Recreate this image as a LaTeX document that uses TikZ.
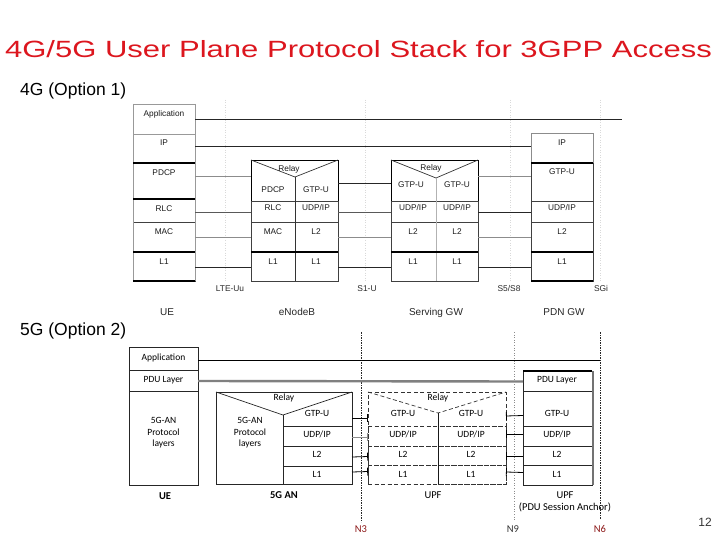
\documentclass[tikz,border=0pt]{standalone}
\usepackage{fontspec}
\setmainfont{Liberation Sans}
\newfontfamily\carl{Carlito}
\usetikzlibrary{arrows.meta,fit,calc}
\definecolor{titlered}{RGB}{220,22,30}
\definecolor{darkred}{RGB}{140,24,24}
\begin{document}
\begin{tikzpicture}[x=1pt,y=-1pt,
  box/.style={draw=black!75,line width=0.6pt,inner sep=0pt,outer sep=0pt},
  nobox/.style={inner sep=0pt,outer sep=0pt},
  dbox/.style={draw=black!80,line width=0.7pt,dash pattern=on 4pt off 2.5pt,inner sep=0pt,outer sep=0pt},
  t4/.style={font=\fontsize{8.3}{9.5}\selectfont,text=black!90,inner sep=0pt,anchor=mid},
  l4/.style={font=\fontsize{10}{12}\selectfont,text=black!85,inner sep=0pt,anchor=mid},
  i4/.style={font=\fontsize{8.4}{10}\selectfont,text=black!85,inner sep=0pt,anchor=mid},
  t5/.style={font=\carl\fontsize{9.5}{11.5}\selectfont,inner sep=0pt,anchor=mid},
  l5/.style={font=\carl\fontsize{10.5}{12}\selectfont,inner sep=0pt,anchor=mid},
  cb/.style={black!85,line width=0.9pt},
  cg/.style={black!45,line width=0.8pt},
  faint/.style={black!15,line width=0.5pt,dotted},
]
\useasboundingbox (0,0) rectangle (720,540);

% ---------- title and headings ----------
\node[text=titlered,inner sep=0pt,anchor=base] (title) at (358.5,57.5)
  {\scalebox{1.32}[1]{\fontsize{23.5}{26}\selectfont 4G/5G User Plane Protocol Stack for 3GPP Access}};
\node[font=\fontsize{17.5}{20}\selectfont,inner sep=0pt,anchor=base west] (h4) at (20,95.5) {4G (Option 1)};
\node[font=\fontsize{17.5}{20}\selectfont,inner sep=0pt,anchor=base west] (h5) at (20,335.5) {5G (Option 2)};
\node[font=\fontsize{12}{14}\selectfont,text=black!80,inner sep=0pt,anchor=base] (pg) at (705,526.5) {12};

% ---------- 4G faint reference lines ----------
\coordinate (f1t) at (225,100); \coordinate (f1b) at (225,282);
\coordinate (f2t) at (365,100); \coordinate (f2b) at (365,282);
\coordinate (f3t) at (510,100); \coordinate (f3b) at (510,282);
\coordinate (f4t) at (600,100); \coordinate (f4b) at (600,282);
\draw[faint] (f1t) -- (f1b); \draw[faint] (f2t) -- (f2b);
\draw[faint] (f3t) -- (f3b); \draw[faint] (f4t) -- (f4b);

% ---------- 4G UE ----------
\node[box,draw=black!40,fit={(133,104)(195,134)}] (ueA) {};
\node[box,draw=black!40,fit={(133,134)(195,163)}] (ueIP) {};
\node[box,fit={(133,163)(195,199)}] (uePD) {};
\node[box,fit={(133,199)(195,222)}] (ueRLC) {};
\node[box,fit={(133,222)(195,252)}] (ueMAC) {};
\node[box,fit={(133,252)(195,281)}] (ueL1) {};
\draw[black!40,line width=0.6pt] (ueA.north west) -- (ueL1.south west);
\draw[black!40,line width=0.6pt] (ueA.north east) -- (ueL1.south east);
\draw[black,line width=1.3pt] (uePD.north west) -- (uePD.north east);
\draw[black,line width=1.3pt] (ueRLC.north west) -- (ueRLC.north east);
\draw[black,line width=1.1pt] (ueL1.north west) -- (ueL1.north east);
\draw[black,line width=1.1pt] (ueL1.south west) -- (ueL1.south east);
\node[t4] (tuA) at (164,114) {Application};
\node[t4] (tuIP) at (164,143) {IP};
\node[t4] (tuPD) at (164,173) {PDCP};
\node[t4] (tuRLC) at (164,209) {RLC};
\node[t4] (tuMAC) at (164,232) {MAC};
\node[t4] (tuL1) at (164,262) {L1};

% ---------- 4G eNodeB ----------
\node[box,draw=black,line width=0.8pt,fit={(251,160)(338,281)}] (enb) {};
\node[nobox,fit={(251,160)(295,201)}] (enbPD) {};
\node[nobox,fit={(295,160)(338,201)}] (enbGT) {};
\node[box,fit={(251,201)(295,222)}] (enbRLC) {};
\node[box,fit={(295,201)(338,222)}] (enbUDP) {};
\node[box,fit={(251,222)(295,252)}] (enbMAC) {};
\node[box,fit={(295,222)(338,252)}] (enbL2) {};
\node[box,fit={(251,252)(295,281)}] (enbL1a) {};
\node[box,fit={(295,252)(338,281)}] (enbL1b) {};
\coordinate (enbApex) at (295,177);
\draw[black!80,line width=0.7pt] (enb.north west) -- (enbApex) -- (enb.north east);
\draw[black!80,line width=0.7pt] (enbApex) -- (enbL1a.south east);
\draw[black,line width=1.1pt] (enbL1a.north west) -- (enbL1b.north east);
\node[t4] (teR) at (289,169) {Relay};
\node[t4] (teP) at (273,190) {PDCP};
\node[t4] (teG) at (316,190) {GTP-U};
\node[t4] (teRL) at (273,208) {RLC};
\node[t4] (teU) at (316,208) {UDP/IP};
\node[t4] (teM) at (273,232) {MAC};
\node[t4] (teL2) at (316,232) {L2};
\node[t4] (teL1a) at (273,262) {L1};
\node[t4] (teL1b) at (316,262) {L1};

% ---------- 4G Serving GW ----------
\node[box,draw=black,line width=0.8pt,fit={(391,160)(478,281)}] (sgw) {};
\node[nobox,fit={(391,160)(436,201)}] (sgwGTa) {};
\node[nobox,fit={(436,160)(478,201)}] (sgwGTb) {};
\node[box,fit={(391,201)(436,222)}] (sgwUDPa) {};
\node[box,fit={(436,201)(478,222)}] (sgwUDPb) {};
\node[box,fit={(391,222)(436,252)}] (sgwL2a) {};
\node[box,fit={(436,222)(478,252)}] (sgwL2b) {};
\node[box,fit={(391,252)(436,281)}] (sgwL1a) {};
\node[box,fit={(436,252)(478,281)}] (sgwL1b) {};
\coordinate (sgwApex) at (436,178);
\draw[black!80,line width=0.7pt] (sgw.north west) -- (sgwApex) -- (sgw.north east);
\draw[black!30,line width=0.8pt] (sgwApex) -- (sgwL1a.south east);
\draw[black,line width=1.1pt] (sgwL1a.north west) -- (sgwL1b.north east);
\node[t4] (tsR) at (431,168) {Relay};
\node[t4] (tsG1) at (411,185) {GTP-U};
\node[t4] (tsG2) at (457,185) {GTP-U};
\node[t4] (tsU1) at (413,208) {UDP/IP};
\node[t4] (tsU2) at (457,208) {UDP/IP};
\node[t4] (tsL21) at (413,232) {L2};
\node[t4] (tsL22) at (457,232) {L2};
\node[t4] (tsL11) at (413,262) {L1};
\node[t4] (tsL12) at (457,262) {L1};

% ---------- 4G PDN GW ----------
\node[box,draw=black!45,fit={(531,133)(593,163)}] (pgwIP) {};
\node[box,fit={(531,163)(593,201)}] (pgwGT) {};
\node[box,fit={(531,201)(593,222)}] (pgwUDP) {};
\node[box,fit={(531,222)(593,252)}] (pgwL2) {};
\node[box,fit={(531,252)(593,281)}] (pgwL1) {};
\draw[black,line width=1.3pt] (pgwGT.north west) -- (pgwGT.north east);
\draw[black,line width=1.1pt] (pgwL1.north west) -- (pgwL1.north east);
\draw[black,line width=1.1pt] (pgwL1.south west) -- (pgwL1.south east);
\node[t4] (tpIP) at (562,143) {IP};
\node[t4] (tpG) at (562,172) {GTP-U};
\node[t4] (tpU) at (562,208) {UDP/IP};
\node[t4] (tpL2) at (562,232) {L2};
\node[t4] (tpL1) at (562,262) {L1};

% ---------- 4G connectors ----------
\coordinate (appEnd4) at (622,119);
\draw[cb] (ueA.east) -- (appEnd4);
\draw[cb] ([yshift=2.5pt]ueIP.east) -- ([yshift=2pt]pgwIP.west);
\draw[cg] ([yshift=5pt]uePD.east) -- ([yshift=4.5pt]enbPD.west);
\draw[black!65,line width=0.8pt] ([yshift=-1.5pt]ueRLC.east) -- ([yshift=-0.5pt]enbRLC.west);
\draw[cg] (ueMAC.east) -- (enbMAC.west);
\draw[cb] ([yshift=-0.5pt]ueL1.east) -- ([yshift=-0.5pt]enbL1a.west);
\draw[cb] ([yshift=-2.5pt]enbGT.east) -- ([yshift=-2.5pt]sgwGTa.west);
\draw[black!65,line width=0.8pt] ([yshift=-0.5pt]enbUDP.east) -- ([yshift=-0.5pt]sgwUDPa.west);
\draw[cg] (enbL2.east) -- (sgwL2a.west);
\draw[cb] ([yshift=-0.5pt]enbL1b.east) -- ([yshift=-0.5pt]sgwL1a.west);
\draw[cg] ([yshift=4.5pt]sgwGTb.east) -- ([yshift=6pt]pgwGT.west);
\draw[cb] ([yshift=-0.5pt]sgwUDPb.east) -- ([yshift=-0.5pt]pgwUDP.west);
\draw[cg] (sgwL2b.east) -- (pgwL2.west);
\draw[cb] ([yshift=-0.5pt]sgwL1b.east) -- ([yshift=-0.5pt]pgwL1.west);

% ---------- 4G labels ----------
\node[i4] (lLTE) at (230,289) {LTE-Uu};
\node[i4] (lS1) at (367,289) {S1-U};
\node[i4] (lS5) at (509,289) {S5/S8};
\node[i4] (lSGi) at (601,289) {SGi};
\node[l4] (lUE4) at (167,313) {UE};
\node[l4] (lENB) at (297,313) {eNodeB};
\node[l4] (lSGW) at (436,313) {Serving GW};
\node[l4] (lPGW) at (564,313) {PDN GW};

% ---------- 5G reference lines ----------
\coordinate (n3t) at (361,332); \coordinate (n3b) at (361,522);
\coordinate (n9t) at (514,332); \coordinate (n9b) at (514,520);
\coordinate (n6t) at (600,332); \coordinate (n6b) at (600,520);
\draw[black!85,line width=0.6pt,dash pattern=on 2pt off 1.2pt on 0.6pt off 1.2pt] (n3t) -- (n3b);
\draw[black!45,line width=0.6pt,dotted] (n9t) -- (n9b);
\draw[black!85,line width=0.6pt,dash pattern=on 2pt off 1.2pt on 0.6pt off 1.2pt] (n6t) -- (n6b);

% ---------- 5G UE ----------
\node[box,draw=black!85,fit={(129,347)(198,370)}] (u5A) {};
\node[box,draw=black!85,fit={(129,370)(198,391)}] (u5P) {};
\node[box,draw=black!85,fit={(129,391)(198,485)}] (u5AN) {};
\node[t5] (tu5A) at (163.5,358) {Application};
\node[t5] (tu5P) at (163.5,380) {PDU Layer};
\node[t5,align=center,anchor=center] (tu5AN) at (163.5,433) {5G-AN\\Protocol\\layers};

% ---------- 5G AN ----------
\node[box,draw=black!85,line width=0.8pt,fit={(216,392)(352,484)}] (an5) {};
\node[nobox,fit={(216,392)(283,484)}] (anL) {};
\node[nobox,fit={(283,392)(352,426)}] (anGT) {};
\node[box,draw=black!85,fit={(283,426)(352,446)}] (anUDP) {};
\node[box,draw=black!85,fit={(283,446)(352,466)}] (anL2) {};
\node[box,draw=black!85,fit={(283,466)(352,484)}] (anL1) {};
\coordinate (anApex) at (283,415);
\draw[black!85,line width=0.7pt] (an5.north west) -- (anApex) -- (an5.north east);
\draw[black!85,line width=0.7pt] (anApex) -- (anL1.south west);
\draw[black!85,line width=0.6pt] (anGT.south west) -- (anGT.south east);
\node[t5] (taR) at (284,398) {Relay};
\node[t5,align=center,anchor=center] (taAN) at (250,433) {5G-AN\\Protocol\\layers};
\node[t5] (taG) at (317,414) {GTP-U};
\node[t5] (taU) at (317,435) {UDP/IP};
\node[t5] (taL2) at (317,455) {L2};
\node[t5] (taL1) at (317,475) {L1};

% ---------- 5G UPF (dashed) ----------
\node[dbox,fit={(368,392)(506,484)}] (upf) {};
\node[nobox,fit={(368,392)(438,426)}] (ufGTa) {};
\node[nobox,fit={(438,392)(506,426)}] (ufGTb) {};
\node[dbox,fit={(368,426)(438,446)}] (ufUDPa) {};
\node[dbox,fit={(438,426)(506,446)}] (ufUDPb) {};
\node[dbox,fit={(368,446)(438,465)}] (ufL2a) {};
\node[dbox,fit={(438,446)(506,465)}] (ufL2b) {};
\node[dbox,fit={(368,465)(438,484)}] (ufL1a) {};
\node[dbox,fit={(438,465)(506,484)}] (ufL1b) {};
\coordinate (ufApex) at (438,413);
\draw[black!80,line width=0.7pt,dash pattern=on 4pt off 2.5pt] (upf.north west) -- (ufApex) -- (upf.north east);
\draw[dbox] (ufGTa.south west) -- (ufGTb.south east);
\draw[black!90,line width=0.7pt] (ufApex) -- (ufL1a.south east);
\node[t5] (tfR) at (438,398) {Relay};
\node[t5] (tfG1) at (403,414) {GTP-U};
\node[t5] (tfG2) at (471,414) {GTP-U};
\node[t5] (tfU1) at (403,435) {UDP/IP};
\node[t5] (tfU2) at (471,435) {UDP/IP};
\node[t5] (tfL21) at (403,455) {L2};
\node[t5] (tfL22) at (471,455) {L2};
\node[t5] (tfL11) at (403,475) {L1};
\node[t5] (tfL12) at (471,475) {L1};

% ---------- 5G UPF (PSA) ----------
\node[box,draw=black!85,fit={(523,371)(592,391)}] (psaP) {};
\node[box,draw=black!85,fit={(523,391)(592,426)}] (psaGT) {};
\node[box,draw=black!85,fit={(523,426)(592,446)}] (psaUDP) {};
\node[box,draw=black!85,fit={(523,446)(592,465)}] (psaL2) {};
\node[box,draw=black!85,fit={(523,465)(592,485)}] (psaL1) {};
\draw[black,line width=1.6pt] (psaP.north west) -- (psaP.north east);
\draw[black!55,line width=1.6pt] ([xshift=1.2pt]psaP.north east) -- ([xshift=1.2pt]psaL1.south east);
\node[t5] (tpP) at (557,380) {PDU Layer};
\node[t5] (tpG5) at (557,414) {GTP-U};
\node[t5] (tpU5) at (557,435) {UDP/IP};
\node[t5] (tpL25) at (557,455) {L2};
\node[t5] (tpL15) at (557,475) {L1};

% ---------- 5G connectors ----------
\coordinate (appEnd5) at (600,360);
\draw[black,line width=0.8pt] ([yshift=-1.5pt]u5A.east) -- (appEnd5);
\draw[black!50,line width=2.4pt] ([yshift=-0.5pt]u5P.east) -- ([yshift=-0.5pt]psaP.west);
\tikzset{tick/.style={line width=0.8pt}}
\draw[tick,-{Bar[width=8pt]}] ([yshift=-9pt]anGT.east) -- ([yshift=-9pt]ufGTa.west);
\draw[tick,black!45,-{Bar[width=8pt]}] ([yshift=-1pt]anUDP.east) -- ([yshift=-1pt]ufUDPa.west);
\draw[tick,-{Bar[width=8pt]}] ([yshift=-1pt]anL2.east) -- ([yshift=-1pt]ufL2a.west);
\draw[tick,-{Bar[width=8pt]}] ([yshift=3pt]anL1.east) -- ([yshift=3pt]ufL1a.west);
\draw[tick,{Bar[width=8pt]}-] ([yshift=-7pt]ufGTb.east) -- ([yshift=-7pt]psaGT.west);
\draw[tick,{Bar[width=8pt]}-] ([yshift=2pt]ufUDPb.east) -- ([yshift=2pt]psaUDP.west);
\draw[tick,{Bar[width=8pt]}-] ([yshift=-0.5pt]ufL2b.east) -- ([yshift=-0.5pt]psaL2.west);
\draw[tick,{Bar[width=8pt]}-] ([yshift=2.5pt]ufL1b.east) -- ([yshift=2.5pt]psaL1.west);

% ---------- 5G labels ----------
\node[l5,font=\carl\bfseries\fontsize{10.5}{12}\selectfont] (lUE5) at (165,497) {UE};
\node[l5,font=\carl\bfseries\fontsize{10.5}{12}\selectfont] (lAN5) at (284,496) {5G AN};
\node[l5] (lUPF1) at (433,496) {UPF};
\node[l5] (lUPF2) at (565,496) {UPF};
\node[l5] (lPSA) at (565,508) {(PDU Session Anchor)};
\node[l5,text=darkred] (lN3) at (361,530) {N3};
\node[l5,text=black!80] (lN9) at (513,530) {N9};
\node[l5,text=darkred] (lN6) at (600,530) {N6};
\end{tikzpicture}
\end{document}
